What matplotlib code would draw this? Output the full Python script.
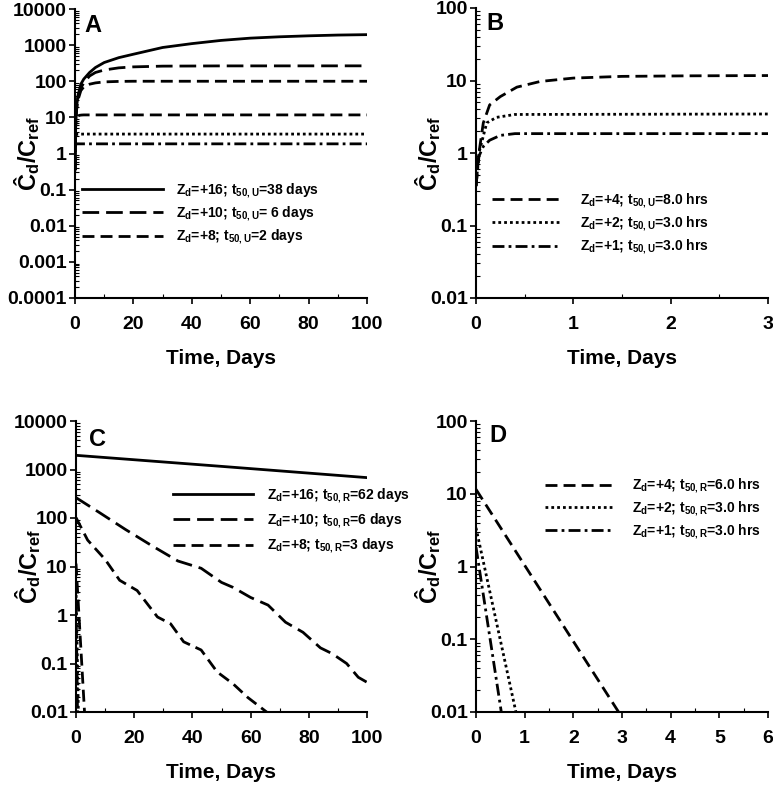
import numpy as np
import matplotlib
matplotlib.use("Agg")
import matplotlib.pyplot as plt
from matplotlib.ticker import FuncFormatter, LogLocator, MultipleLocator

plt.rcParams["font.family"] = ["Liberation Sans", "DejaVu Sans"]
plt.rcParams["font.weight"] = "bold"
plt.rcParams["mathtext.fontset"] = "custom"
plt.rcParams["mathtext.rm"] = "Liberation Sans:bold"
plt.rcParams["mathtext.it"] = "Liberation Sans:bold"
plt.rcParams["mathtext.bf"] = "Liberation Sans:bold"

# ---- panel A: uptake, days ----
tA_z16 = [0, 0.25, 0.5, 1, 2, 3, 5, 7, 10, 15, 20, 30, 40, 50, 60, 70, 80, 90, 100]
cA_z16 = [0.35, 8, 18, 40, 83, 115, 175, 240, 330, 450, 560, 860, 1100, 1350, 1560, 1700, 1810, 1900, 1950]
tA_z10 = [0, 0.25, 0.5, 1, 2, 3, 5, 7, 10, 15, 20, 30, 50, 100]
cA_z10 = [0.35, 8, 17, 35, 65, 90, 140, 175, 205, 235, 250, 262, 266, 267]
tA_z8 = [0, 0.25, 0.5, 1, 2, 3, 5, 7, 10, 15, 20, 100]
cA_z8 = [0.35, 7, 15, 30, 55, 70, 83, 90, 96, 99, 100, 100]

# ---- panel B: uptake, hours ----
tB_z4 = [0, 0.03, 0.075, 0.14, 0.25, 0.42, 0.66, 1.0, 1.5, 2.2, 3.0]
cB_z4 = [0.35, 1.0, 2.6, 4.6, 6.0, 8.1, 9.7, 10.8, 11.4, 11.6, 11.7]
tB_z2 = [0, 0.03, 0.11, 0.21, 0.4, 3.0]
cB_z2 = [0.35, 1.0, 2.6, 3.1, 3.4, 3.45]
tB_z1 = [0, 0.03, 0.075, 0.14, 0.25, 0.4, 3.0]
cB_z1 = [0.35, 0.9, 1.23, 1.5, 1.75, 1.85, 1.85]

# ---- panel C: release, days ----
tC_z16 = [0, 50, 100]
cC_z16 = [1960, 1160, 680]
tC_z10 = [0, 8, 17, 26, 35, 43, 50, 54, 60, 66, 72, 78, 84, 88, 93, 97, 100]
cC_z10 = [263, 130, 58, 27, 13, 9.2, 4.7, 3.7, 2.3, 1.6, 0.71, 0.44, 0.21, 0.16, 0.10, 0.052, 0.041]
tC_z8 = [0, 4, 10, 15, 21, 24.5, 28, 32.5, 37, 43, 48.5, 54, 59, 65.5]
cC_z8 = [102, 35, 14, 5.2, 3.2, 1.7, 0.91, 0.66, 0.28, 0.19, 0.067, 0.038, 0.02, 0.01]

# ---- panel D: release, hours ----
tD_z4 = [0, 2.93]
cD_z4 = [11.5, 0.01]
tD_z2 = [0, 0.82]
cD_z2 = [3.4, 0.01]
tD_z1 = [0, 0.52]
cD_z1 = [1.85, 0.01]

W, H = 773, 786
LW = 2.0
SOLID = "-"
LONG = (0, (6, 2.5))
SHORT = (0, (4.3, 2.2))
DOT = (0, (1, 1.1))
DASHDOT = (0, (4.3, 1.5, 1, 1.5))

fig = plt.figure(figsize=(W / 100, H / 100), dpi=100)


def px_axes(left, right, top, bottom):
    return fig.add_axes([left / W, 1 - bottom / H, (right - left) / W, (bottom - top) / H])


def style(ax, xmax, xmajor, xminor, ymin, ymax, letter, letter_px):
    ax.set_yscale("log")
    ax.set_xlim(0, xmax)
    ax.set_ylim(ymin, ymax)
    for s in ["top", "right"]:
        ax.spines[s].set_visible(False)
    for s in ["left", "bottom"]:
        ax.spines[s].set_linewidth(1.5)
    ax.xaxis.set_major_locator(MultipleLocator(xmajor))
    ax.xaxis.set_minor_locator(MultipleLocator(xminor))
    ax.yaxis.set_major_locator(LogLocator(base=10, numticks=20))
    ax.yaxis.set_minor_locator(LogLocator(base=10, subs=np.arange(2, 10), numticks=20))
    ax.yaxis.set_major_formatter(FuncFormatter(lambda v, p: "{:g}".format(v)))
    ax.tick_params(which="major", direction="out", length=4, width=1.2, labelsize=14)
    ax.tick_params(which="minor", direction="in", length=3, width=0.8)
    ax.tick_params(axis="x", which="major", pad=9)
    ax.tick_params(axis="y", which="major", pad=2)
    ax.set_xlabel("Time, Days", fontsize=15, fontweight="bold", va="center")
    ax.set_ylabel("Ĉ$_{d}$/C$_{ref}$", fontsize=17, fontweight="bold", va="center")
    ax.xaxis.set_label_coords(0.5, -0.208)
    ax.yaxis.set_label_coords(-0.165, 0.5)
    fig.text(letter_px[0] / W, 1 - letter_px[1] / H, letter, fontsize=17,
             fontweight="bold", ha="center", va="center")


def add_legend(ax, x_px, y_px, hlen, tpad, spacing):
    ax.legend(loc="center left", bbox_to_anchor=(x_px / W, 1 - y_px / H),
              bbox_transform=fig.transFigure, frameon=False, fontsize=10,
              borderpad=0, borderaxespad=0, handlelength=hlen,
              handletextpad=tpad, labelspacing=spacing)


# A
axA = px_axes(75, 367, 9, 298)
axA.plot(tA_z16, cA_z16, color="black", lw=LW, ls=SOLID, label="Z$_{d}$=+16; t$_{50,U}$=38 days")
axA.plot(tA_z10, cA_z10, color="black", lw=LW, ls=LONG, label="Z$_{d}$=+10; t$_{50,U}$= 6 days")
axA.plot(tA_z8, cA_z8, color="black", lw=LW, ls=SHORT, label="Z$_{d}$=+8; t$_{50,U}$=2 days")
axA.plot(tB_z4 + [100], cB_z4 + [cB_z4[-1]], color="black", lw=LW, ls=SHORT)
axA.plot(tB_z2 + [100], cB_z2 + [cB_z2[-1]], color="black", lw=LW, ls=DOT)
axA.plot(tB_z1 + [100], cB_z1 + [cB_z1[-1]], color="black", lw=LW, ls=DASHDOT)
style(axA, 100, 20, 10, 1e-4, 1e4, "A", (93, 25))
add_legend(axA, 82, 214, 5.8, 1.0, 0.35)

# B
axB = px_axes(476, 768, 8, 298)
axB.plot(tB_z4, cB_z4, color="black", lw=LW, ls=SHORT, label="Z$_{d}$=+4; t$_{50,U}$=8.0 hrs")
axB.plot(tB_z2, cB_z2, color="black", lw=LW, ls=DOT, label="Z$_{d}$=+2; t$_{50,U}$=3.0 hrs")
axB.plot(tB_z1, cB_z1, color="black", lw=LW, ls=DASHDOT, label="Z$_{d}$=+1; t$_{50,U}$=3.0 hrs")
style(axB, 3, 1, 0.5, 1e-2, 1e2, "B", (495, 23))
add_legend(axB, 492, 224, 4.9, 1.4, 0.35)

# C
axC = px_axes(76, 367, 421, 712)
axC.plot(tC_z16, cC_z16, color="black", lw=LW, ls=SOLID, label="Z$_{d}$=+16; t$_{50,R}$=62 days")
axC.plot(tC_z10, cC_z10, color="black", lw=LW, ls=LONG, label="Z$_{d}$=+10; t$_{50,R}$=6 days")
axC.plot(tC_z8, cC_z8, color="black", lw=LW, ls=SHORT, label="Z$_{d}$=+8; t$_{50,R}$=3 days")
axC.plot(tD_z4, cD_z4, color="black", lw=LW, ls=SHORT)
axC.plot(tD_z2, cD_z2, color="black", lw=LW, ls=DOT)
axC.plot(tD_z1, cD_z1, color="black", lw=LW, ls=DASHDOT)
style(axC, 100, 20, 10, 1e-2, 1e4, "C", (97, 440))
add_legend(axC, 173, 521, 5.75, 1.05, 0.5)

# D
axD = px_axes(476, 768, 421, 712)
axD.plot(tD_z4, cD_z4, color="black", lw=LW, ls=SHORT, label="Z$_{d}$=+4; t$_{50,R}$=6.0 hrs")
axD.plot(tD_z2, cD_z2, color="black", lw=LW, ls=DOT, label="Z$_{d}$=+2; t$_{50,R}$=3.0 hrs")
axD.plot(tD_z1, cD_z1, color="black", lw=LW, ls=DASHDOT, label="Z$_{d}$=+1; t$_{50,R}$=3.0 hrs")
style(axD, 6, 1, 0.5, 1e-2, 1e2, "D", (498, 436))
add_legend(axD, 545, 509, 4.9, 1.35, 0.32)

fig.savefig("out.png", dpi=100)
